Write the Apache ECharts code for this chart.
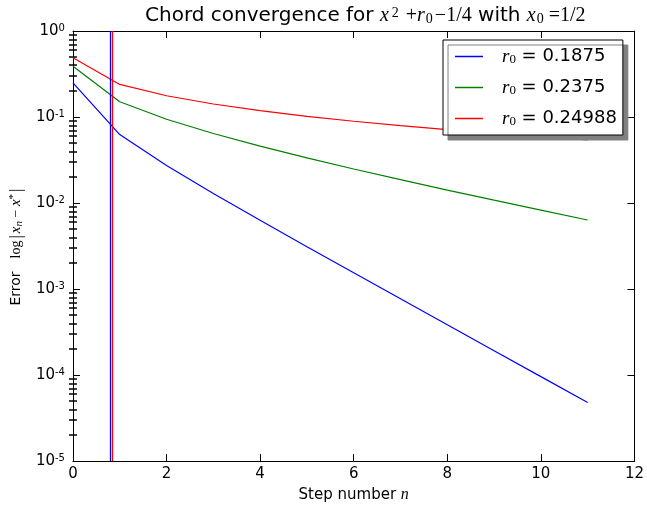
<!DOCTYPE html>
<html>
<head>
<meta charset="utf-8">
<script src="https://cdn.jsdelivr.net/npm/echarts@6/dist/echarts.min.js"></script>
<style>
  html, body { margin: 0; padding: 0; background: #fff; }
  #chart { width: 647px; height: 508px; }
</style>
</head>
<body>
<div id="chart"></div>
<script>
// step numbers and error values for each r0
var steps = [0, 1, 2, 3, 4, 5, 6, 7, 8, 9, 10, 11];
var errBlue = [0.25, 0.0625, 0.02734, 0.01292, 0.006295, 0.003108, 0.001544, 0.0007698, 0.0003843, 0.0001920, 0.00009596, 0.00004797];
var errGreen = [0.3882, 0.1507, 0.09429, 0.06432, 0.04580, 0.03346, 0.02486, 0.01868, 0.01416, 0.01079, 0.008261, 0.006345];
var errRed = [0.4890, 0.2392, 0.1767, 0.1416, 0.1185, 0.1018, 0.08923, 0.07932, 0.07129, 0.06464, 0.05905, 0.05427];
var legendNames = ['r0 = 0.1875', 'r0 = 0.2375', 'r0 = 0.24988'];
var legendValues = ['0.1875', '0.2375', '0.24988'];
// vertical lines near x = 0.8
var vlineBlue = 0.80;
var vlineRed = 0.845;

function pairs(ys) {
  return steps.map(function (s, i) { return [s, ys[i]]; });
}

// minor ticks at 2..9 x 10^k like matplotlib
var minorTickValues = [];
for (var k = -5; k < 0; k++) {
  for (var j = 2; j <= 9; j++) minorTickValues.push(j * Math.pow(10, k));
}

var font = 'DejaVu Sans';
var serif = 'Liberation Serif';
var tickStyle = { color: '#000', width: 1 };
var minorTickStyle = { color: '#000', width: 1.5 };
var frameLine = { show: true, onZero: false, lineStyle: { color: '#000', width: 1 } };

// extra log axis that only draws the minor ticks
function minorAxis(pos) {
  return {
    type: 'log',
    logBase: 10,
    position: pos,
    min: 1e-5, max: 1,
    axisLine: { show: false },
    axisTick: { show: true, inside: true, length: 4, customValues: minorTickValues, lineStyle: minorTickStyle },
    axisLabel: { show: false },
    splitLine: { show: false }
  };
}

var chart = echarts.init(document.getElementById('chart'), null, { renderer: 'canvas' });

var option = {
  animation: false,
  backgroundColor: '#fff',
  title: {
    left: 140,
    top: 1,
    text: '{t|Chord convergence for }{m|x}{sup|2}{n|+}{m|r}{sub|0}{d|\u22121/4}{t| with }{m|x}{sub|0}{e|=1/2}',
    textStyle: {
      fontWeight: 'normal',
      rich: {
        t: { fontFamily: font, fontWeight: 'normal', fontSize: 20, color: '#000' },
        m: { fontFamily: serif, fontWeight: 'normal', fontStyle: 'italic', fontSize: 20, color: '#000' },
        n: { fontFamily: serif, fontWeight: 'normal', fontSize: 20, color: '#000', padding: [0, 0, 0, 7] },
        d: { fontFamily: serif, fontWeight: 'normal', fontSize: 20, color: '#000', padding: [0, 0, 0, 2] },
        e: { fontFamily: serif, fontWeight: 'normal', fontSize: 20, color: '#000', padding: [0, 0, 0, 5] },
        sup: { fontFamily: serif, fontWeight: 'normal', fontSize: 14, color: '#000', verticalAlign: 'top', padding: [0, 0, 2, 3] },
        sub: { fontFamily: serif, fontWeight: 'normal', fontSize: 14, color: '#000', verticalAlign: 'bottom', padding: [3, 0, 0, 1] }
      }
    }
  },
  grid: {
    left: 71, right: 11, top: 31, bottom: 43,
    show: false
  },
  legend: {
    orient: 'vertical',
    left: 443,
    top: 40,
    data: legendNames,
    icon: 'rect',
    itemWidth: 28,
    itemHeight: 1.5,
    itemGap: 12,
    padding: [7, 6, 7, 12],
    backgroundColor: '#fff',
    borderColor: '#000',
    borderWidth: 1,
    borderRadius: 0,
    shadowColor: '#808080',
    shadowBlur: 0,
    shadowOffsetX: 5,
    shadowOffsetY: 5,
    formatter: function (name) {
      var i = legendNames.indexOf(name);
      return '{m|r}{sub|0}{t| = ' + legendValues[i] + '}';
    },
    textStyle: {
      rich: {
        m: { fontFamily: serif, fontStyle: 'italic', fontSize: 19, color: '#000', padding: [0, 0, 0, 14] },
        sub: { fontFamily: serif, fontSize: 13, color: '#000', verticalAlign: 'bottom', padding: [4, 0, 0, 0] },
        t: { fontFamily: font, fontSize: 18, color: '#000' }
      }
    }
  },
  xAxis: [{
    type: 'value',
    min: 0, max: 12, interval: 2,
    name: '{t|Step number }{m|n}',
    nameLocation: 'middle',
    nameGap: 24,
    nameTextStyle: {
      rich: {
        t: { fontFamily: font, fontSize: 15, color: '#000' },
        m: { fontFamily: serif, fontStyle: 'italic', fontSize: 16, color: '#000' }
      }
    },
    axisLine: frameLine,
    axisTick: { show: true, inside: true, length: 7, lineStyle: tickStyle },
    axisLabel: { margin: 6, fontFamily: font, fontSize: 15, color: '#000' },
    splitLine: { show: false }
  }, {
    type: 'value',
    position: 'top',
    min: 0, max: 12, interval: 2,
    axisLine: frameLine,
    axisTick: { show: true, inside: true, length: 7, lineStyle: tickStyle },
    axisLabel: { show: false },
    splitLine: { show: false }
  }],
  yAxis: [{
    type: 'log',
    logBase: 10,
    min: 1e-5, max: 1,
    name: '{t|Error}{n|log}{p||}{m|x}{sub|n}{n| \u2212 }{m|x}{sup|*}{p||}',
    nameLocation: 'middle',
    nameGap: 46,
    nameTextStyle: {
      rich: {
        t: { fontFamily: font, fontSize: 14, color: '#000', padding: [0, 13, 0, 0] },
        n: { fontFamily: serif, fontSize: 14, color: '#000' },
        p: { fontFamily: serif, fontSize: 17, color: '#000', padding: [0, 2, 0, 2] },
        m: { fontFamily: serif, fontStyle: 'italic', fontSize: 15, color: '#000' },
        sub: { fontFamily: serif, fontStyle: 'italic', fontSize: 11, color: '#000', verticalAlign: 'bottom', padding: [3, 0, 0, 0] },
        sup: { fontFamily: serif, fontSize: 11, color: '#000', verticalAlign: 'top', padding: [0, 0, 3, 0] }
      }
    },
    axisLine: frameLine,
    axisTick: { show: true, inside: true, length: 7, lineStyle: tickStyle },
    axisLabel: {
      margin: 8,
      formatter: function (v) {
        var p = Math.round(Math.log10(v));
        return '{b|10}{s|' + p + '}';
      },
      rich: {
        b: { fontFamily: font, fontSize: 15, color: '#000' },
        s: { fontFamily: font, fontSize: 10, color: '#000', verticalAlign: 'top', padding: [0, 0, 2, 0] }
      }
    },
    splitLine: { show: false },
    minorTick: { show: false }
  }, {
    type: 'log',
    logBase: 10,
    position: 'right',
    min: 1e-5, max: 1,
    axisLine: frameLine,
    axisTick: { show: true, inside: true, length: 7, lineStyle: tickStyle },
    axisLabel: { show: false },
    splitLine: { show: false }
  },
  minorAxis('left'),
  minorAxis('right')],
  series: [{
    name: legendNames[0],
    type: 'line',
    data: pairs(errBlue),
    symbol: 'none',
    color: '#0000ff',
    lineStyle: { width: 1.2, color: '#0000ff' },
    markLine: {
      silent: true, symbol: 'none', label: { show: false },
      lineStyle: { type: 'solid', color: '#0000ff', width: 1.3 },
      data: [{ xAxis: vlineBlue }]
    }
  }, {
    name: legendNames[1],
    type: 'line',
    data: pairs(errGreen),
    symbol: 'none',
    color: '#008000',
    lineStyle: { width: 1.2, color: '#008000' }
  }, {
    name: legendNames[2],
    type: 'line',
    data: pairs(errRed),
    symbol: 'none',
    color: '#ff0000',
    lineStyle: { width: 1.2, color: '#ff0000' },
    markLine: {
      silent: true, symbol: 'none', label: { show: false },
      lineStyle: { type: 'solid', color: '#ff0000', width: 1.3 },
      data: [{ xAxis: vlineRed }]
    }
  }]
};

chart.setOption(option);
</script>
</body>
</html>
